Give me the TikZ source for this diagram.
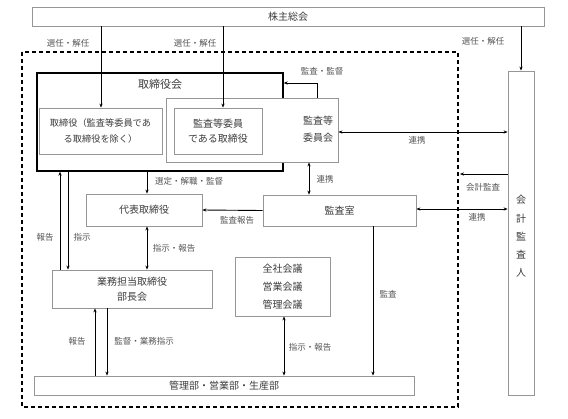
\documentclass[tikz,border=0pt]{standalone}
\usepackage{fontspec}
\setmainfont{Noto Sans CJK JP}
\usetikzlibrary{arrows.meta}
\definecolor{bordergray}{RGB}{150,150,150}
\definecolor{txtgray}{RGB}{60,60,60}
\definecolor{lblgray}{RGB}{85,85,85}
\begin{document}
\begin{tikzpicture}[x=1pt,y=-1pt,
  box/.style={draw=bordergray,fill=white,line width=0.8pt,inner sep=0pt,
    font=\fontsize{10}{15}\selectfont,text=txtgray,align=center},
  lbl/.style={font=\fontsize{8.5}{10}\selectfont,text=lblgray,inner sep=0pt},
  btxt/.style={font=\fontsize{10}{17}\selectfont,text=txtgray,inner sep=0pt,align=center},
  arr/.style={line width=0.9pt,-{Stealth[length=4pt,width=3.2pt]}},
  arrb/.style={line width=0.9pt,{Stealth[length=4pt,width=3.2pt]}-{Stealth[length=4pt,width=3.2pt]}},
  plain/.style={line width=0.9pt}]
\useasboundingbox (0,0) rectangle (568,418);
\fill[white] (0,0) rectangle (568,418);
% dashed frame
\draw[line width=1.2pt,dash pattern=on 4pt off 3pt] (22,52) rectangle (458,407);
% top
\node[box,minimum width=512pt,minimum height=19pt] (kab) at (288,16.5) {株主総会};
% board outer thick
\node[draw=black,line width=1.4pt,minimum width=246pt,minimum height=98pt,inner sep=0pt] (out) at (160,122) {};
\node[font=\fontsize{11}{13}\selectfont,text=txtgray] (outl) at (160,84) {取締役会};
% committee
\node[box,minimum width=172pt,minimum height=64pt] (com) at (252,130) {};
\node[btxt] (coml) at (318,129.5) {監査等\\委員会};
\node[box,minimum width=88pt,minimum height=46pt] (cin) at (218,131) {監査等委員\\である取締役};
\node[box,minimum width=123pt,minimum height=46pt,font=\fontsize{9.2}{15.5}\selectfont] (lin) at (100.5,131) {取締役（監査等委員であ\\る取締役を除く）};
% others
\node[box,minimum width=116pt,minimum height=32pt] (dai) at (144,210) {代表取締役};
\node[box,minimum width=153pt,minimum height=31pt] (ksh) at (339.5,210.5) {監査室};
\node[box,minimum width=160pt,minimum height=38pt] (gyo) at (132,289) {業務担当取締役\\部長会};
\node[box,minimum width=95pt,minimum height=59pt,font=\fontsize{10}{18}\selectfont] (zen) at (282.5,286.5) {全社会議\\営業会議\\管理会議};
\node[box,minimum width=380pt,minimum height=19pt] (kan) at (224,385.5) {管理部・営業部・生産部};
\node[box,minimum width=26pt,minimum height=324pt] (kai) at (521,233) {};
\node[font=\fontsize{10}{18.3}\selectfont,text=txtgray,align=center,inner sep=0pt] (kail) at (521,236.5) {会\\計\\監\\査\\人};
% arrows from shareholders
\draw[arr] (101,0 |- kab.south) -- (101,0 |- lin.north);
\draw[arr] (223,0 |- kab.south) -- (223,0 |- cin.north);
\draw[arr] (521,0 |- kab.south) -- (kai.north);
\node[lbl] at (68,43) {選任・解任};
\node[lbl] at (195,43) {選任・解任};
\node[lbl] at (483,41) {選任・解任};
% audit/supervise loop
\draw[arr] (317,0 |- com.north) -- (317,83) -- (out.east |- 0,83);
\node[lbl] at (322,71) {監査・監督};
% committee <-> auditor
\draw[arrb] (com.east |- 0,132) -- (kai.west |- 0,132);
\node[lbl] at (417,140) {連携};
% committee <-> audit office
\draw[arrb] (309,0 |- com.south) -- (309,0 |- ksh.north);
\node[lbl] at (325,179) {連携};
% accounting audit
\coordinate (kae) at (460,174);
\draw[arr] (kai.west |- kae) -- (kae);
\node[lbl] at (483,187) {会計監査};
\draw[arrb] (ksh.east |- 0,209) -- (kai.west |- 0,209);
\node[lbl] at (477,217) {連携};
% audit report
\draw[arr] (ksh.west) -- (dai.east);
\node[lbl] at (237,220) {監査報告};
% board -> representative
\draw[arr] (147,0 |- out.south) -- (147,0 |- dai.north);
\node[lbl] at (189,181) {選定・解職・監督};
% board <-> gyomu
\draw[arr] (60,0 |- gyo.north) -- (60,0 |- out.south);
\draw[arr] (68,0 |- out.south) -- (68,0 |- gyo.north);
\node[lbl] at (45,237) {報告};
\node[lbl] at (82,237) {指示};
% representative <-> gyomu
\draw[arrb] (147,0 |- dai.south) -- (147,0 |- gyo.north);
\node[lbl] at (174,248) {指示・報告};
% gyomu <-> kanri
\draw[arr] (95,0 |- kan.north) -- (95,0 |- gyo.south);
\draw[arr] (107,0 |- gyo.south) -- (107,0 |- kan.north);
\node[lbl] at (77,341) {報告};
\node[lbl] at (144,341) {監督・業務指示};
% meetings <-> kanri
\draw[arrb] (284,0 |- zen.south) -- (284,0 |- kan.north);
\node[lbl] at (310,347) {指示・報告};
% audit office -> kanri
\draw[arr] (373,0 |- ksh.south) -- (373,0 |- kan.north);
\node[lbl] at (388,294) {監査};
\end{tikzpicture}
\end{document}
